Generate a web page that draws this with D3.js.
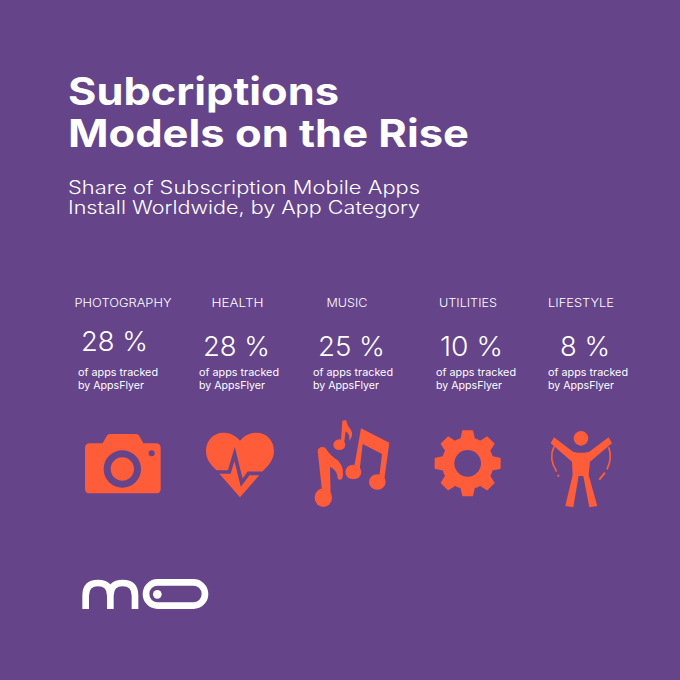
<!DOCTYPE html>
<html lang="en">
<head>
<meta charset="UTF-8">
<title>Subcriptions Models on the Rise</title>
<script src="https://cdnjs.cloudflare.com/ajax/libs/d3/7.8.5/d3.min.js"></script>
<style>
    html, body { margin: 0; padding: 0; background: #65448a; }
    svg { display: block; }
    text { font-family: Inter, "Open Sans", sans-serif; fill: #fff; }
</style>
</head>
<body>
<svg id="chart" width="680" height="680"></svg>
<script>
// data
const titleLines = ["Subcriptions", "Models on the Rise"];
const subtitleLines = ["Share of Subscription Mobile Apps", "Install Worldwide, by App Category"];
const categories = ["PHOTOGRAPHY", "HEALTH", "MUSIC", "UTILITIES", "LIFESTYLE"];
const shares = [28, 28, 25, 10, 8];
const noteLines = ["of apps tracked", "by AppsFlyer"];

// layout (the columns in the original are not quite evenly spaced)
const columnNudge = [0, 0, -5, 1.5, 0];
const labelWidths = [97, 52, 41, 58, 66];
const valueLeft = [81, 203, 318, 440, 560];
const valueBase = [351, 356, 356, 356, 356];
const valueWidths = [67, 67, 67, 63, 50];
const noteLeft = [78, 199, 313, 436, 548];

const orange = "#ff5c39";
const purple = "#65448a";

const svg = d3.select("#chart");
const x = d3.scalePoint().domain(categories).range([123, 581]);

svg.append("rect").attr("width", 680).attr("height", 680).attr("fill", purple);

// headings
svg.selectAll(".title").data(titleLines).enter().append("text")
    .attr("class", "title")
    .attr("x", 68)
    .attr("y", (d, i) => 105 + i * 42)
    .attr("font-size", 38)
    .attr("font-weight", 700)
    .attr("textLength", (d, i) => [271, 401][i])
    .attr("lengthAdjust", "spacingAndGlyphs")
    .text(d => d);

svg.selectAll(".subtitle").data(subtitleLines).enter().append("text")
    .attr("class", "subtitle")
    .attr("x", 68)
    .attr("y", (d, i) => 194 + i * 20)
    .attr("font-size", 18)
    .attr("font-weight", 300)
    .attr("textLength", 352)
    .attr("lengthAdjust", "spacingAndGlyphs")
    .text(d => d);

// columns
categories.forEach((c, i) => {
    const cx = x(c) + columnNudge[i];
    svg.append("text")
        .attr("x", cx - labelWidths[i] / 2)
        .attr("y", 307)
        .attr("font-size", 11.5)
        .attr("font-weight", 300)
        .attr("textLength", labelWidths[i])
        .attr("lengthAdjust", "spacingAndGlyphs")
        .text(c);
    svg.append("text")
        .attr("x", valueLeft[i])
        .attr("y", valueBase[i])
        .attr("font-size", 27)
        .attr("font-weight", 300)
        .attr("textLength", valueWidths[i])
        .attr("lengthAdjust", "spacingAndGlyphs")
        .text(shares[i] + " %");
    noteLines.forEach((n, j) => {
        svg.append("text")
            .attr("x", noteLeft[i])
            .attr("y", 376 + j * 13)
            .attr("font-size", 10.5)
            .attr("font-weight", 400)
            .attr("textLength", j ? 66 : 80)
            .attr("lengthAdjust", "spacingAndGlyphs")
            .text(n);
    });
});

// icons, drawn in the 3x coordinates of the crop they were measured on
const third = "scale(0.3333)";

const camera = svg.append("g").attr("transform", `translate(60,410) ${third}`).attr("fill", orange);
camera.append("path")
    .attr("d", "M90,100 H128 L140,78 Q143,72 150,72 H228 Q235,72 238,78 L250,100 H288 Q302,100 302,114 V236 Q302,250 288,250 H90 Q75,250 75,236 V114 Q75,100 90,100 Z");
camera.append("circle").attr("cx", 187).attr("cy", 177).attr("r", 56).attr("fill", purple);
camera.append("circle").attr("cx", 187).attr("cy", 177).attr("r", 35);
camera.append("circle").attr("cx", 275).attr("cy", 130).attr("r", 9).attr("fill", purple);

const heart = svg.append("g").attr("transform", `translate(60,410) ${third}`).attr("fill", orange);
heart.append("path")
    .attr("d", "M540,92 C522,70 500,68 490,68 C460,68 438,92 438,122 C438,145 450,162 465,176 L540,262 L615,176 C630,162 642,145 642,122 C642,92 620,68 590,68 C580,68 558,70 540,92 Z");
heart.append("path")
    .attr("d", "M430,186 H508 L524,132 L545,218 L566,190 H650")
    .attr("fill", "none").attr("stroke", purple).attr("stroke-width", 11).attr("stroke-linejoin", "miter");

const music = svg.append("g").attr("transform", `translate(300,410) ${third}`).attr("fill", orange);
music.append("path").attr("d", "M183,55 L268,98 L252,215 L236,215 L246,132 L188,102 L178,188 L160,185 Z");
music.append("ellipse").attr("cx", 160).attr("cy", 186).attr("rx", 24).attr("ry", 22);
music.append("ellipse").attr("cx", 232).attr("cy", 216).attr("rx", 25).attr("ry", 23);
music.append("path").attr("d", "M53,122 Q58,106 76,113 Q88,135 115,152 Q135,175 127,205 Q120,214 113,205 Q113,182 90,170 L92,265 L68,262 Z");
music.append("ellipse").attr("cx", 70).attr("cy", 263).attr("rx", 26).attr("ry", 28);
music.append("path").attr("d", "M127,32 L138,30 Q142,48 153,60 Q162,76 148,92 Q150,72 137,64 L131,108 L122,105 Z");
music.append("ellipse").attr("cx", 118).attr("cy", 104).attr("rx", 18).attr("ry", 16);

// gear: 8 teeth round a ring
const gear = svg.append("g").attr("transform", `translate(300,410) ${third} translate(503,160)`).attr("fill", orange);
gear.append("circle").attr("r", 78);
d3.range(8).forEach(k => {
    gear.append("path")
        .attr("d", "M-22,-72 L-16,-99 H16 L22,-72 Z")
        .attr("transform", `rotate(${k * 45})`);
});
gear.append("circle").attr("r", 40).attr("fill", purple);

const person = svg.append("g").attr("transform", `translate(300,410) ${third}`).attr("fill", orange);
person.append("circle").attr("cx", 843).attr("cy", 85).attr("r", 22);
person.append("path")
    .attr("d", "M762,82 L815,122 Q822,128 843,128 Q866,128 872,122 L926,82 L936,100 L870,155 L866,195 L892,288 L868,292 L850,198 L836,198 L820,292 L796,288 L818,195 L816,155 L752,100 Z");
person.append("path")
    .attr("d", "M762,110 Q745,145 770,185")
    .attr("fill", "none").attr("stroke", orange).attr("stroke-width", 5);
person.append("circle").attr("cx", 775).attr("cy", 197).attr("r", 3.5);
person.append("path")
    .attr("d", "M926,112 Q938,145 921,178")
    .attr("fill", "none").attr("stroke", orange).attr("stroke-width", 5);
person.append("path")
    .attr("d", "M915,188 L898,209")
    .attr("fill", "none").attr("stroke", orange).attr("stroke-width", 6);

// logo
const logo = svg.append("g").attr("transform", `translate(70,565) ${third}`)
    .attr("fill", "none").attr("stroke", "#fff").attr("stroke-width", 20);
logo.append("path")
    .attr("d", "M47,132 V92 Q47,54 84,54 Q121,54 121,92 V132 M121,92 Q121,54 158,54 Q195,54 195,92 V132");
logo.append("rect").attr("x", 228).attr("y", 52).attr("width", 177).attr("height", 70).attr("rx", 35);
logo.append("circle").attr("cx", 262).attr("cy", 88).attr("r", 13).attr("fill", "#fff").attr("stroke", "none");
</script>
</body>
</html>
